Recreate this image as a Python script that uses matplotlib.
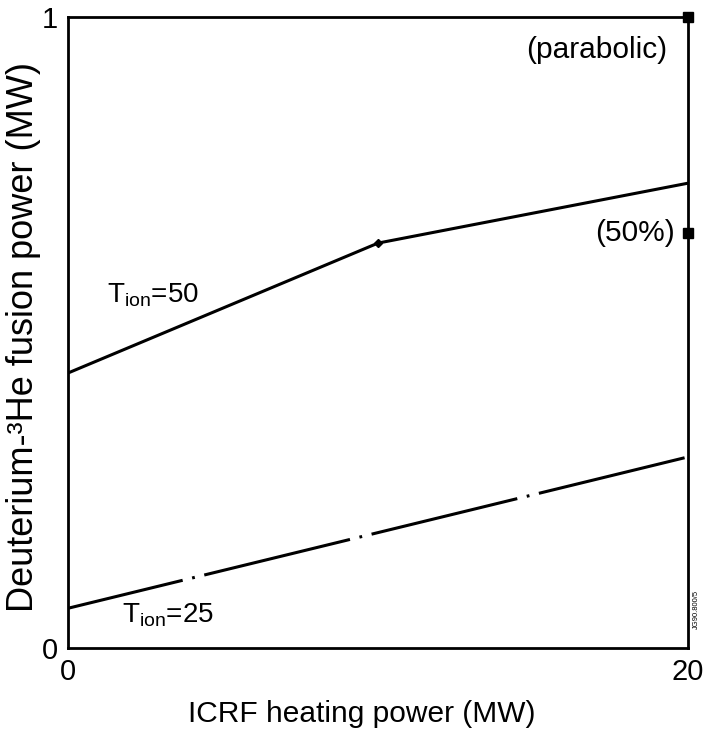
import matplotlib
matplotlib.use("Agg")
import matplotlib.pyplot as plt

plt.rcParams["font.family"] = ["Liberation Sans", "DejaVu Sans"]
plt.rcParams["mathtext.fontset"] = "custom"
plt.rcParams["mathtext.rm"] = "Liberation Sans"
plt.rcParams["mathtext.it"] = "Liberation Sans"
plt.rcParams["lines.scale_dashes"] = False

# ICRF heating power (MW) vs D-3He fusion power (MW)
icrf_50 = [0, 10, 20]
fusion_50 = [0.436, 0.642, 0.737]
icrf_25 = [0, 20]
fusion_25 = [0.063, 0.303]
# single reference points at 20 MW
ref_labels = ["(parabolic)", "(50%)"]
ref_x = [20, 20]
ref_y = [1.0, 0.658]

fig = plt.figure(figsize=(7.03, 7.30), dpi=100)
ax = fig.add_axes([0.0967, 0.1123, 0.882, 0.864])

ax.plot(icrf_50, fusion_50, color="black", lw=2.2, solid_capstyle="butt")
ax.plot(icrf_50[1], fusion_50[1], marker="D", ms=4.5, color="black")
ax.plot(icrf_25, fusion_25, color="black", lw=2.2,
        linestyle=(23, (108, 7, 2, 7)), dash_capstyle="butt")

ax.plot(ref_x, ref_y, ls="none", marker="s", ms=7, color="black", clip_on=False, zorder=5)
ax.text(19.32, 0.948, ref_labels[0], ha="right", va="center", fontsize=21.5)
ax.text(19.58, ref_y[1], ref_labels[1], ha="right", va="center", fontsize=21.5)

ax.text(1.26, 0.548, r"T$_{\rm ion}$=50", ha="left", va="baseline", fontsize=20)
ax.text(1.74, 0.040, r"T$_{\rm ion}$=25", ha="left", va="baseline", fontsize=20)

ax.set_xlim(0, 20)
ax.set_ylim(0, 1)
ax.set_xticks([0, 20])
ax.set_yticks([0, 1])
ax.set_yticklabels(["0", "1"])
ax.tick_params(length=0, labelsize=21, pad=7)
for s in ax.spines.values():
    s.set_linewidth(2.0)

ax.set_xlabel("ICRF heating power (MW)", fontsize=21.5)
ax.xaxis.set_label_coords(0.474, -0.105)
ax.xaxis.label.set_va("center")
ax.set_ylabel("Deuterium-³He fusion power (MW)", fontsize=26)
ax.yaxis.set_label_coords(-0.071, 0.493)
ax.yaxis.label.set_va("center")

fig.text(0.991, 0.165, "JG90.800/5", rotation=90, fontsize=5.5, ha="center", va="center")

fig.savefig("out.png", dpi=100)
